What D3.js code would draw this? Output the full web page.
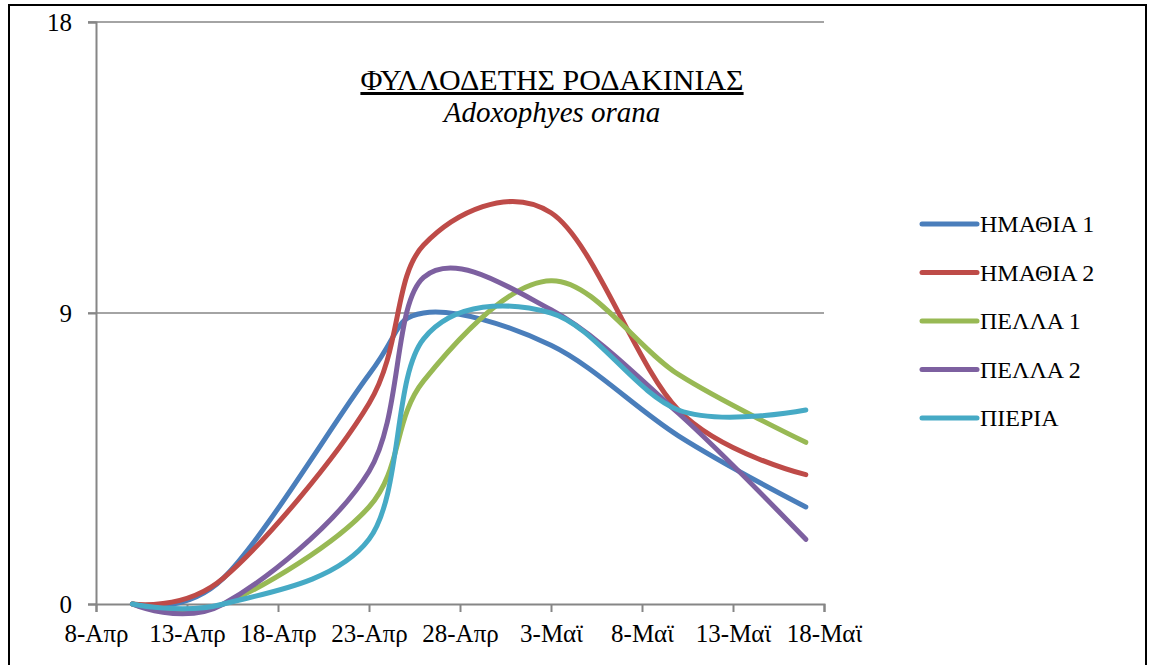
<!DOCTYPE html>
<html>
<head>
<meta charset="utf-8">
<script src="https://cdn.jsdelivr.net/npm/d3@7"></script>
<style>
  body { margin: 0; background: #fff; }
  svg text { font-family: "Liberation Serif", "Times New Roman", serif; fill: #000; }
</style>
</head>
<body>
<div id="chart"></div>
<script>
// sampling dates (day-month, 2014 season)
var dates = ["10-4", "15-4", "23-4", "26-4", "3-5", "10-5", "17-5"];

var seriesNames = ["ΗΜΑΘΙΑ 1", "ΗΜΑΘΙΑ 2", "ΠΕΛΛΑ 1", "ΠΕΛΛΑ 2", "ΠΙΕΡΙΑ"];
var imathia1 = [0, 0.8, 7.1, 9.0, 8.0, 5.2, 3.0];
var imathia2 = [0, 0.8, 6.2, 11.1, 12.1, 6.0, 4.0];
var pella1   = [0, 0, 3.0, 6.9, 10.0, 7.1, 5.0];
var pella2   = [0, 0, 4.1, 10.1, 9.1, 5.9, 2.0];
var pieria   = [0, 0, 2.0, 8.2, 9.0, 6.0, 6.0];
var colors = ["#4A7EBB", "#BE4B48", "#98B954", "#7D60A0", "#46AAC5"];

var yTicks = [0, 9, 18];
var monthNames = { 3: "Απρ", 4: "Μαϊ" };

var w = 1157, h = 665;
var margin = { left: 96, right: 333, top: 22, bottom: 61 };
var serif = "'Liberation Serif', 'Times New Roman', serif";

var parseDate = function(s) {
    var p = s.split("-");
    return new Date(2014, +p[1] - 1, +p[0]);
};

var allSeries = [imathia1, imathia2, pella1, pella2, pieria].map(function(vals, i) {
    return {
        name: seriesNames[i],
        color: colors[i],
        values: vals.map(function(v, j) { return { date: parseDate(dates[j]), value: v }; })
    };
});

var svg = d3.select("#chart").append("svg")
    .attr("width", w)
    .attr("height", h)
    .attr("font-family", serif);

// outer frame
svg.append("rect")
    .attr("x", 9).attr("y", 5)
    .attr("width", 1137).attr("height", 670)
    .attr("fill", "none")
    .attr("stroke", "#000")
    .attr("stroke-width", 2);

var x = d3.scaleTime()
    .domain([new Date(2014, 3, 8), new Date(2014, 4, 18)])
    .range([margin.left, w - margin.right]);

var y = d3.scaleLinear()
    .domain([0, 18])
    .range([h - margin.bottom, margin.top]);

var xTicks = d3.timeDay.range(new Date(2014, 3, 8), new Date(2014, 4, 19), 5);

// gridlines
svg.selectAll(".grid")
    .data(yTicks.filter(function(d) { return d > 0; }))
    .enter().append("line")
    .attr("class", "grid")
    .attr("x1", x.range()[0] - 8)
    .attr("x2", x.range()[1])
    .attr("y1", function(d) { return y(d); })
    .attr("y2", function(d) { return y(d); })
    .attr("stroke", "#868686")
    .attr("stroke-width", 1.5);

// y axis
var yAxis = svg.append("g")
    .attr("transform", "translate(" + margin.left + ",0)")
    .call(d3.axisLeft(y).tickValues(yTicks).tickSize(8).tickPadding(16));

// x axis
var xAxis = svg.append("g")
    .attr("transform", "translate(0," + y(0) + ")")
    .call(d3.axisBottom(x).tickValues(xTicks).tickSize(8).tickPadding(12)
        .tickFormat(function(d) { return d.getDate() + "-" + monthNames[d.getMonth()]; }));

[xAxis, yAxis].forEach(function(g) {
    g.attr("font-family", serif);
    g.select(".domain").attr("stroke", "#868686").attr("stroke-width", 2);
    g.selectAll(".tick line").attr("stroke", "#868686").attr("stroke-width", 2);
    g.selectAll(".tick text")
        .style("font-family", serif)
        .style("font-size", "25px")
        .attr("fill", "#000");
});

// lines (smoothed like the spreadsheet chart)
var line = d3.line()
    .x(function(d) { return x(d.date); })
    .y(function(d) { return y(d.value); })
    .curve(d3.curveCardinal.tension(0));

svg.selectAll(".series")
    .data(allSeries)
    .enter().append("path")
    .attr("class", "series")
    .attr("d", function(d) { return line(d.values); })
    .attr("fill", "none")
    .attr("stroke", function(d) { return d.color; })
    .attr("stroke-width", 5)
    .attr("stroke-linecap", "round")
    .attr("stroke-linejoin", "round");

// title
svg.append("text")
    .attr("x", 552).attr("y", 90)
    .attr("text-anchor", "middle")
    .style("font-family", serif)
    .style("font-size", "30px")
    .style("text-decoration", "underline")
    .text("ΦΥΛΛΟΔΕΤΗΣ ΡΟΔΑΚΙΝΙΑΣ");

svg.append("text")
    .attr("x", 552).attr("y", 122)
    .attr("text-anchor", "middle")
    .style("font-family", serif)
    .style("font-size", "29px")
    .style("font-style", "italic")
    .text("Adoxophyes orana");

// legend
var legend = svg.selectAll(".legend")
    .data(allSeries)
    .enter().append("g")
    .attr("class", "legend")
    .attr("transform", function(d, i) { return "translate(922," + (224 + i * 48.5) + ")"; });

legend.append("line")
    .attr("x1", 0).attr("x2", 55)
    .attr("stroke", function(d) { return d.color; })
    .attr("stroke-width", 5)
    .attr("stroke-linecap", "round");

legend.append("text")
    .attr("x", 58)
    .attr("dy", "0.35em")
    .style("font-family", serif)
    .style("font-size", "24px")
    .text(function(d) { return d.name; });
</script>
</body>
</html>
